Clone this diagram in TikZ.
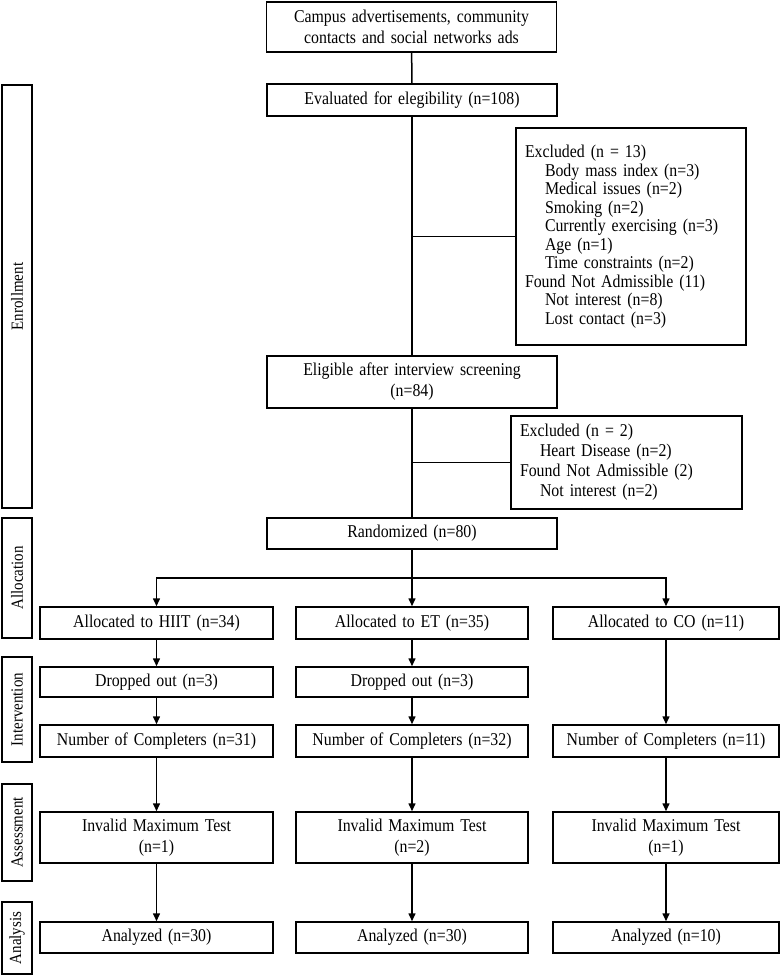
\documentclass[tikz,border=0pt]{standalone}
\usepackage{fontspec}
\setmainfont{Liberation Serif}[FakeStretch=0.88, WordSpace=1.5]
\usetikzlibrary{arrows.meta}
\begin{document}
\begin{tikzpicture}[x=1pt, y=-1pt,
    caja/.style={draw, line width=1.5pt, align=center, inner sep=2pt,
        font=\fontsize{18}{21}\selectfont},
    lista/.style={draw, line width=1.5pt, align=left, inner xsep=9pt},
    lateral/.style={draw, line width=1.5pt, rotate=90, minimum height=30pt,
        inner sep=1pt, font=\fontsize{17}{18}\selectfont},
    linea/.style={line width=1.5pt},
    flecha/.style={line width=1.5pt, -{Triangle[length=8pt, width=7pt]}}]
    \useasboundingbox (0,0) rectangle (780,975);

    % Etapas
    \node[lateral, minimum width=423pt] (enr) at (17,296.5) {Enrollment};
    \node[lateral, minimum width=120pt] (alo) at (17,578) {Allocation};
    \node[lateral, minimum width=105pt] (int) at (17,709.5) {Intervention};
    \node[lateral, minimum width=97pt] (eva) at (17,832.5) {Assessment};
    \node[lateral, minimum width=72pt] (ana) at (17,938) {Analysis};

    % Reclutamiento
    \node[caja, minimum width=290pt, minimum height=50pt] (src) at (411.5,27)
        {Campus advertisements, community\\contacts and social networks ads};
    \node[caja, minimum width=290pt, minimum height=32pt] (eval) at (412,100)
        {Evaluated for elegibility (n=108)};
    \node[lista, text width=212pt, minimum height=217pt,
        font=\fontsize{18}{18.5}\selectfont] (excl1) at (631,236.5)
        {Excluded (n = 13)\\
        \hspace*{20pt}Body mass index (n=3)\\
        \hspace*{20pt}Medical issues (n=2)\\
        \hspace*{20pt}Smoking (n=2)\\
        \hspace*{20pt}Currently exercising (n=3)\\
        \hspace*{20pt}Age (n=1)\\
        \hspace*{20pt}Time constraints (n=2)\\
        Found Not Admissible (11)\\
        \hspace*{20pt}Not interest (n=8)\\
        \hspace*{20pt}Lost contact (n=3)};
    \node[caja, minimum width=290pt, minimum height=52pt] (elig) at (412,382)
        {Eligible after interview screening\\(n=84)};
    \node[lista, text width=213pt, minimum height=93pt,
        font=\fontsize{18}{20}\selectfont] (excl2) at (626.5,462.5)
        {Excluded (n = 2)\\
        \hspace*{20pt}Heart Disease (n=2)\\
        Found Not Admissible (2)\\
        \hspace*{20pt}Not interest (n=2)};
    \node[caja, minimum width=290pt, minimum height=31pt] (rand) at (412,533.5)
        {Randomized (n=80)};

    % Grupos
    \node[caja, minimum width=233pt, minimum height=32pt] (hiit) at (156.5,623) {Allocated to HIIT (n=34)};
    \node[caja, minimum width=232pt, minimum height=32pt] (et) at (412,623) {Allocated to ET (n=35)};
    \node[caja, minimum width=226pt, minimum height=32pt] (co) at (666,623) {Allocated to CO (n=11)};

    \node[caja, minimum width=233pt, minimum height=30pt] (drop1) at (156.5,682) {Dropped out (n=3)};
    \node[caja, minimum width=232pt, minimum height=30pt] (drop2) at (412,682) {Dropped out (n=3)};

    \node[caja, minimum width=233pt, minimum height=32pt] (comp1) at (156.5,741) {Number of Completers (n=31)};
    \node[caja, minimum width=232pt, minimum height=32pt] (comp2) at (412,741) {Number of Completers (n=32)};
    \node[caja, minimum width=226pt, minimum height=32pt] (comp3) at (666,741) {Number of Completers (n=11)};

    \node[caja, minimum width=233pt, minimum height=51pt] (inv1) at (156.5,837.5) {Invalid Maximum Test\\(n=1)};
    \node[caja, minimum width=232pt, minimum height=51pt] (inv2) at (412,837.5) {Invalid Maximum Test\\(n=2)};
    \node[caja, minimum width=226pt, minimum height=51pt] (inv3) at (666,837.5) {Invalid Maximum Test\\(n=1)};

    \node[caja, minimum width=233pt, minimum height=31pt] (an1) at (156.5,937.5) {Analyzed (n=30)};
    \node[caja, minimum width=232pt, minimum height=31pt] (an2) at (412,937.5) {Analyzed (n=30)};
    \node[caja, minimum width=226pt, minimum height=31pt] (an3) at (666,937.5) {Analyzed (n=10)};

    % Conexiones
    \draw[linea] (src) -- (eval);
    \draw[linea] (eval) -- (elig);
    \draw[linea] (eval.south |- excl1.west) -- (excl1.west);
    \draw[linea] (elig) -- (rand);
    \draw[linea] (elig.south |- excl2.west) -- (excl2.west);

    \coordinate (rama) at (412,578);
    \draw[linea] (rand) -- (rama);
    \draw[flecha] (rama) -- (et);
    \draw[flecha] (rama) -| (hiit);
    \draw[flecha] (rama) -| (co);

    \draw[flecha] (hiit) -- (drop1);
    \draw[flecha] (et) -- (drop2);
    \draw[flecha] (co) -- (comp3);
    \draw[flecha] (drop1) -- (comp1);
    \draw[flecha] (drop2) -- (comp2);
    \draw[flecha] (comp1) -- (inv1);
    \draw[flecha] (comp2) -- (inv2);
    \draw[flecha] (comp3) -- (inv3);
    \draw[flecha] (inv1) -- (an1);
    \draw[flecha] (inv2) -- (an2);
    \draw[flecha] (inv3) -- (an3);
\end{tikzpicture}
\end{document}
